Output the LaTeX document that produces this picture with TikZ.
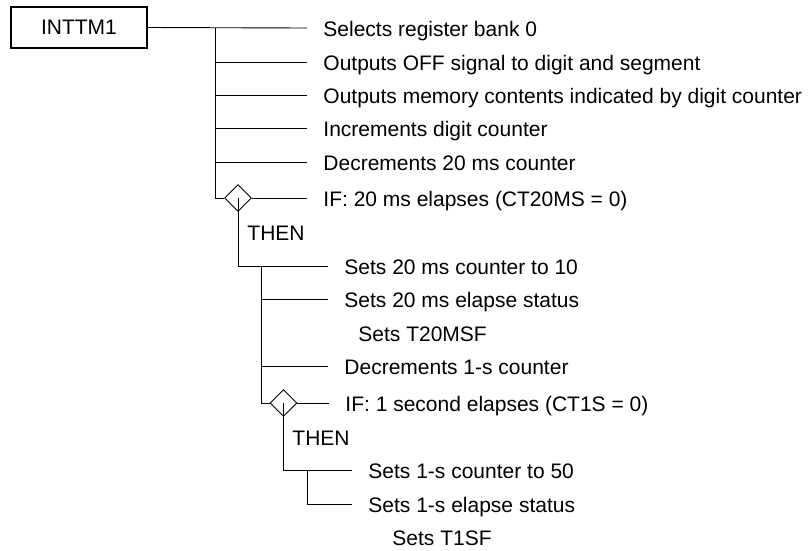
\documentclass[tikz,border=0pt]{standalone}
\usepackage{fontspec}
\setmainfont{Liberation Sans}
\usetikzlibrary{shapes.geometric}

\begin{document}
\begin{tikzpicture}[x=1pt, y=-1pt, line width=0.9pt,
  every node/.style={font=\fontsize{21}{25}\selectfont},
  mainbox/.style={draw, line width=2pt, minimum width=136pt, minimum height=41pt, inner sep=0pt},
  txt/.style={anchor=west, inner xsep=16pt, inner ysep=0pt, text height=17pt, text depth=0pt},
  cond/.style={diamond, draw, minimum width=27pt, minimum height=27pt, inner sep=0pt}
]
\useasboundingbox (0,0) rectangle (811,550);

% top level
\node[mainbox] (inttm) at (79,27.5) {INTTM1};
\node[txt] (sel) at (307,28) {Selects register bank 0};
\node[txt] (off) at (307,62) {Outputs OFF signal to digit and segment};
\node[txt] (mem) at (307,95) {Outputs memory contents indicated by digit counter};
\node[txt] (inc) at (307,128) {Increments digit counter};
\node[txt] (dec) at (307,162) {Decrements 20 ms counter};
\node[cond] (if20) at (238,198) {};
\node[txt] (if20t) at (307,198) {IF: 20 ms elapses (CT20MS = 0)};
\node[txt, inner xsep=0pt] (then20) at (247,232) {THEN};

% 20 ms branch
\node[txt] (set10) at (328,266) {Sets 20 ms counter to 10};
\node[txt] (st20) at (328,299) {Sets 20 ms elapse status};
\node[txt] (f20) at (342,333) {Sets T20MSF};
\node[txt] (dec1) at (328,366) {Decrements 1-s counter};
\node[cond] (if1) at (283.5,403) {};
\node[txt] (if1t) at (329,403) {IF: 1 second elapses (CT1S = 0)};
\node[txt, inner xsep=0pt] (then1) at (292,437) {THEN};

% 1 s branch
\node[txt] (set50) at (352,470) {Sets 1-s counter to 50};
\node[txt] (st1) at (352,504) {Sets 1-s elapse status};
\node[txt] (f1) at (376,537) {Sets T1SF};

\coordinate (k0) at (215,28);
\coordinate (m0) at (261,266);
\coordinate (n0) at (307,470);

\draw (inttm.east) -- (sel.west);
\draw (k0) -- (k0 |- if20.west) -- (if20.west);
\draw (k0 |- off.west) -- (off.west);
\draw (k0 |- mem.west) -- (mem.west);
\draw (k0 |- inc.west) -- (inc.west);
\draw (k0 |- dec.west) -- (dec.west);
\draw (if20.east) -- (if20t.west);
\draw (if20.center) -- (if20 |- set10.west) -- (set10.west);

\draw (m0) -- (m0 |- if1.west) -- (if1.west);
\draw (m0 |- st20.west) -- (st20.west);
\draw (m0 |- dec1.west) -- (dec1.west);
\draw (if1.east) -- (if1t.west);
\draw (if1.center) -- (if1 |- set50.west) -- (set50.west);

\draw (n0) -- (n0 |- st1.west) -- (st1.west);
\end{tikzpicture}
\end{document}
